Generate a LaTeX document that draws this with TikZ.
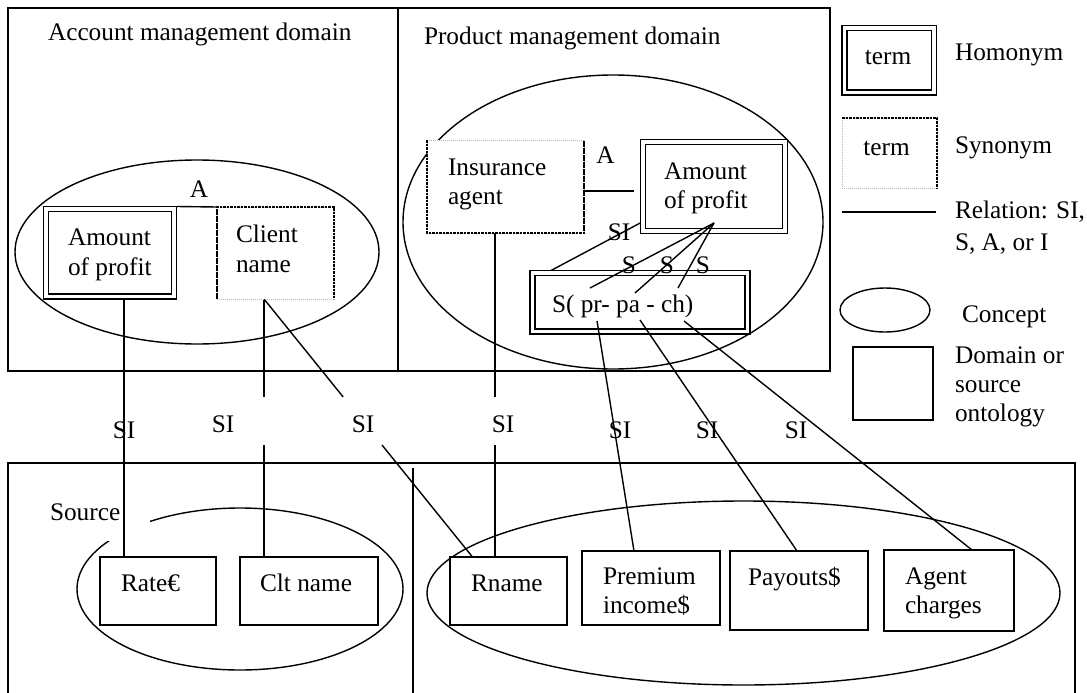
\documentclass[tikz,border=0pt]{standalone}
\usepackage{fontspec}
\setmainfont{Liberation Serif}
\usetikzlibrary{shapes.geometric,backgrounds}
\begin{document}
\begin{tikzpicture}[x=1pt,y=-1pt,
  every node/.style={font=\fontsize{25.3}{29}\selectfont, inner sep=0pt, outer sep=0pt},
  txt/.style={anchor=base west},
  lbl/.style={anchor=base},
  frame/.style={draw, line width=1.5pt, rectangle, anchor=north west},
  homo/.style={draw, double=white, double distance=3.8pt, line width=1.2pt, fill=white, rectangle},
  syn/.style={draw=gray!55, line width=0.9pt, dash pattern=on 1pt off 1pt, fill=white, rectangle},
  syndark/.style={line width=2.2pt, dash pattern=on 2.6pt off 0.9pt},
  termbox/.style={draw, line width=1.4pt, fill=white, rectangle},
  concept/.style={draw, ellipse, line width=1.4pt},
  rel/.style={line width=1.4pt}
]
\useasboundingbox (0,0) rectangle (1087,693);
\clip (0,0) rectangle (1087,693);

% ---------- frames ----------
\node[frame, minimum width=822pt, minimum height=363pt] (top) at (8,8) {};
\draw[line width=1.5pt] ([xshift=390pt]top.north west) -- ([xshift=390pt]top.south west);
\node[frame, minimum width=1067pt, minimum height=300pt] (bot) at (8,463) {};
\draw[line width=1.5pt] ([xshift=405pt,yshift=-5pt]bot.north west) -- ([xshift=405pt]bot.south west);

% ---------- concepts (background) ----------
\begin{pgfonlayer}{background}
\node[concept, minimum width=364pt, minimum height=184pt] (ellAM) at (197,252) {};
\node[concept, minimum width=420pt, minimum height=294pt] (ellPM) at (613,222) {};
\node[concept, minimum width=326pt, minimum height=162pt] (ellS1) at (240,589) {};
\node[concept, minimum width=633pt, minimum height=184pt] (ellS2) at (743.5,593) {};
\fill[white] (47,495) rectangle (150,541);
\end{pgfonlayer}

% ---------- titles ----------
\node[txt] (tAM) at (48,41) {Account management domain};
\node[txt] (tPM) at (424,45) {Product management domain};
\node[txt] (tSrc) at (50,520) {Source};

% ---------- account management domain ----------
\node[homo, minimum width=128pt, minimum height=87.5pt] (amtL) at (110,252.75) {};
\node[txt] (amtLa) at (68,245) {Amount};
\node[txt] (amtLb) at (68,275) {of profit};
\node[syn, minimum width=117pt, minimum height=92pt] (client) at (275.5,253) {};
\draw[syndark] (client.south west) -- (client.north west) -- (client.north east) -- (client.south east);
\node[txt] (clienta) at (236,242) {Client};
\node[txt] (clientb) at (236,272) {name};
\node[lbl] (aL) at (199,197) {A};

% ---------- product management domain ----------
\node[syn, minimum width=157pt, minimum height=93pt] (ins) at (505.5,186.5) {};
\draw[syndark] (ins.north west) -- (ins.south west) -- (ins.south east) -- (ins.north east);
\node[txt] (insa) at (448,175) {Insurance};
\node[txt] (insb) at (448,204) {agent};
\node[homo, minimum width=142pt, minimum height=89pt] (amtR) at (714,186.5) {};
\node[txt] (amtRa) at (664,179) {Amount};
\node[txt] (amtRb) at (664,208) {of profit};
\node[lbl] (aR) at (605.5,163) {A};
\node[homo, minimum width=215pt, minimum height=58.5pt] (sbox) at (640,302.25) {};
\node[txt] (sboxt) at (552,312) {S( pr- pa - ch)};
\node[lbl] (siTop) at (619,240) {SI};
\node[lbl] (s1) at (629,273) {S};
\node[lbl] (s2) at (667,273) {S};
\node[lbl] (s3) at (703,273) {S};

% ---------- legend ----------
\node[homo, minimum width=89.5pt, minimum height=64.5pt] (homL) at (889.25,60.25) {};
\node[lbl] (homLt) at (888,65) {term};
\node[txt] (homT) at (955,60) {Homonym};
\node[syn, minimum width=95pt, minimum height=70pt] (synL) at (889.5,153) {};
\draw[syndark] (synL.north west) -- (synL.north east) -- (synL.south east);
\node[lbl] (synLt) at (886.5,155) {term};
\node[txt] (synT) at (955,153) {Synonym};
\coordinate (relA) at (842,212);
\coordinate (relB) at (936,212);
\draw[rel] (relA) -- (relB);
\node[txt] (relT1) at (955,218) {Relation: SI,};
\node[txt] (relT2) at (955,250) {S, A, or I};
\node[concept, minimum width=90pt, minimum height=44pt] (conL) at (885,310) {};
\node[txt] (conT) at (962,322) {Concept};
\node[termbox, minimum width=80pt, minimum height=73pt] (domL) at (893,383.5) {};
\node[txt] (domT1) at (955,363) {Domain or};
\node[txt] (domT2) at (955,392) {source};
\node[txt] (domT3) at (955,421) {ontology};

% ---------- sources ----------
\node[termbox, minimum width=116pt, minimum height=68pt] (rate) at (158,591) {};
\node[txt] (ratet) at (121,591) {Rate€};
\node[termbox, minimum width=138pt, minimum height=68pt] (clt) at (309,591) {};
\node[txt] (cltt) at (260,591) {Clt name};
\node[termbox, minimum width=117pt, minimum height=68pt] (rname) at (508.5,591) {};
\node[txt] (rnamet) at (471,591) {Rname};
\node[termbox, minimum width=138pt, minimum height=74pt] (prem) at (651,588) {};
\node[txt] (prema) at (603,584) {Premium};
\node[txt] (premb) at (603,613) {income\$};
\node[termbox, minimum width=138pt, minimum height=79pt] (pay) at (799,590.5) {};
\node[txt] (payt) at (748,585) {Payouts\$};
\node[termbox, minimum width=130pt, minimum height=81pt] (agent) at (949,590.5) {};
\node[txt] (agenta) at (905,584) {Agent};
\node[txt] (agentb) at (905,613) {charges};

% ---------- SI labels ----------
\node[lbl] (si1) at (124,438) {SI};
\node[lbl] (si2) at (223,432) {SI};
\node[lbl] (si3) at (363,432) {SI};
\node[lbl] (si4) at (503,432) {SI};
\node[lbl] (si5) at (620,438) {SI};
\node[lbl] (si6) at (707,438) {SI};
\node[lbl] (si7) at (796,438) {SI};

% ---------- connectors behind boxes ----------
\begin{pgfonlayer}{background}
\draw[rel] (amtL.south -| si1) -- (rate.north -| si1);
\coordinate (g1a) at (264,397);
\coordinate (g1b) at (264,445);
\draw[rel] (client.south -| g1a) -- (g1a);
\draw[rel] (g1b) -- (clt.north -| g1b);
\coordinate (g2a) at (343.2,397);
\coordinate (g2b) at (382,445);
\draw[rel] (client.south -| g1a) -- (g2a);
\draw[rel] (g2b) -- ([xshift=-36pt]rname.north);
\coordinate (g3a) at (495,397);
\coordinate (g3b) at (495,445);
\draw[rel] (ins.south -| g3a) -- (g3a);
\draw[rel] (g3b) -- (rname.north -| g3b);
\coordinate (siA) at (548,272.1);
\coordinate (siB) at (644,221);
\draw[rel] (siA) -- (siB);
\coordinate (aEnd) at (634,191);
\draw[rel] (ins.east |- aEnd) -- (aEnd);
\draw[rel] ([shift={(2.5pt,2.5pt)}]amtL.north east) -- (client.north west);
\end{pgfonlayer}

% ---------- connectors on top ----------
\coordinate (fan) at (714,223);
\coordinate (sp1) at (590,288);
\coordinate (sp2) at (635,293);
\coordinate (sp3) at (678,288);
\draw[rel] (fan) -- (sp1);
\draw[rel] (fan) -- (sp2);
\draw[rel] (fan) -- (sp3);
\coordinate (spr) at (597,321);
\coordinate (spa) at (640,320);
\coordinate (sch) at (684,321);
\draw[rel] (spr) -- ([xshift=-17pt]prem.north);
\draw[rel] (spa) -- ([xshift=-2pt]pay.north);
\draw[rel] (sch) -- ([xshift=23pt]agent.north);
\end{tikzpicture}
\end{document}
